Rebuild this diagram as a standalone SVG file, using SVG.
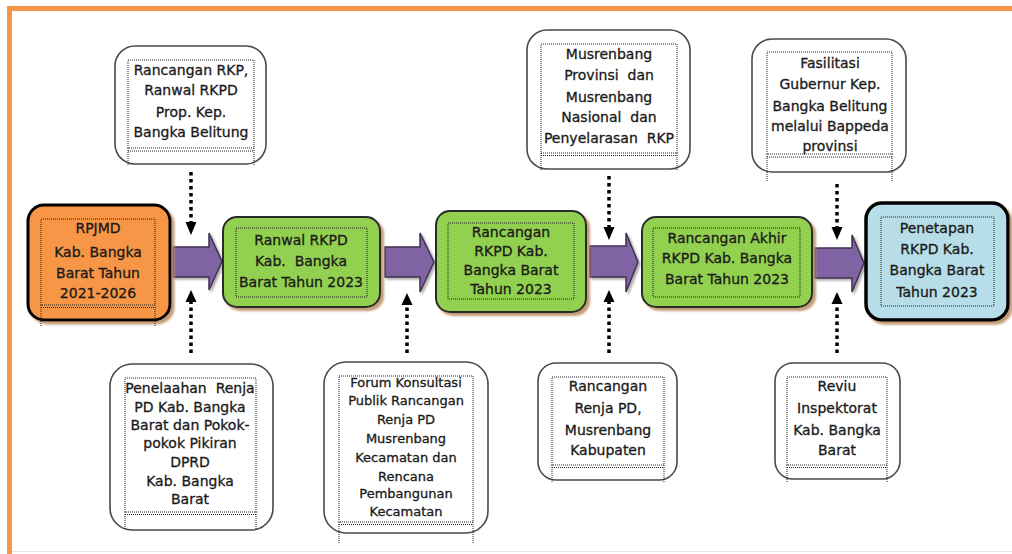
<svg xmlns="http://www.w3.org/2000/svg" width="1012" height="554" viewBox="0 0 1012 554">
<style>
text{font-family:"DejaVu Sans","Verdana",sans-serif;font-size:14px;fill:#1a1a1a;stroke:#1a1a1a;stroke-width:0.3;text-anchor:middle;white-space:pre}
.sm{font-size:13px}
.outer{fill:#fff;stroke:#4a4a4a;stroke-width:1.6}
.dot{fill:none;stroke:#222;stroke-width:1;stroke-dasharray:1 1}
.green{fill:#92D050;stroke:#2b2b2b;stroke-width:2;filter:url(#sh)}
.dl{fill:none;stroke:#000;stroke-width:3.5;stroke-dasharray:3.5 3.5}
.hd{fill:#000}
.pa{fill:#8064A2;stroke:#3f3151;stroke-width:1.5;filter:url(#sh2)}
</style>
<defs>
<filter id="sh" x="-10%" y="-10%" width="130%" height="130%">
<feDropShadow dx="3" dy="3" stdDeviation="1" flood-color="#b88a5e" flood-opacity="0.85"/>
</filter>
<filter id="sh2" x="-10%" y="-10%" width="130%" height="130%">
<feDropShadow dx="2" dy="2" stdDeviation="1.2" flood-color="#777" flood-opacity="0.6"/>
</filter>
</defs>
<rect width="1012" height="554" fill="#fff"/>
<!-- frame -->
<path d="M9.5,554 V8.5 H1012" fill="none" stroke="#F79646" stroke-width="5"/>
<line x1="12" y1="551.5" x2="1012" y2="551.5" stroke="#e6e6e6" stroke-width="1"/>

<g id="connectors">
<path class="pa" d="M173,247 H209 V233 L222,261.5 L209,290 V277 H173 Z"/>
<path class="pa" d="M385,247 H420 V233 L434,262 L420,292 V277 H385 Z"/>
<path class="pa" d="M590,246 H626 V233 L638,262 L626,292 V277 H590 Z"/>
<path class="pa" d="M815,248 H852 V235 L864,263 L852,292 V278 H815 Z"/>
<line class="dl" x1="191" y1="172" x2="191" y2="224"/>
<polygon class="hd" points="185.5,222 196.5,222 191,235"/>
<line class="dl" x1="191" y1="353" x2="191" y2="300"/>
<polygon class="hd" points="185.5,302 196.5,302 191,290"/>
<line class="dl" x1="407" y1="353" x2="407" y2="303"/>
<polygon class="hd" points="401.5,305 412.5,305 407,293"/>
<line class="dl" x1="609" y1="176" x2="609" y2="229"/>
<polygon class="hd" points="603.5,227 614.5,227 609,240"/>
<line class="dl" x1="609" y1="353" x2="609" y2="300"/>
<polygon class="hd" points="603.5,302 614.5,302 609,290"/>
<line class="dl" x1="837" y1="184" x2="837" y2="229"/>
<polygon class="hd" points="831.5,227 842.5,227 837,240"/>
<line class="dl" x1="837" y1="353" x2="837" y2="302"/>
<polygon class="hd" points="831.5,304 842.5,304 837,292"/>
</g>

<g id="rpjmd">
<rect x="28" y="205" width="142" height="115" rx="16" fill="#F79646" stroke="#000" stroke-width="3" filter="url(#sh)"/>
<rect class="dot" x="41" y="219" width="114" height="86"/>
<path class="dot" d="M41,307.5 H155 M41,305 V327 M155,305 V327"/>
<text x="98" y="233">RPJMD</text>
<text x="98" y="257">Kab. Bangka</text>
<text x="98" y="278">Barat Tahun</text>
<text x="98" y="298">2021-2026</text>
</g>

<g id="ranwal">
<rect class="green" x="223" y="217" width="157" height="90" rx="14"/>
<rect class="dot" x="236" y="228" width="131" height="69"/>
<text x="301" y="245">Ranwal RKPD</text>
<text x="301" y="266">Kab.  Bangka</text>
<text x="301" y="287">Barat Tahun 2023</text>
</g>

<g id="rancangan">
<rect class="green" x="436" y="211" width="150" height="101" rx="14"/>
<rect class="dot" x="448" y="223" width="126" height="76"/>
<text x="511" y="237">Rancangan</text>
<text x="511" y="256">RKPD Kab.</text>
<text x="511" y="275">Bangka Barat</text>
<text x="511" y="294">Tahun 2023</text>
</g>

<g id="rancangan-akhir">
<rect class="green" x="642" y="217" width="170" height="90" rx="14"/>
<rect class="dot" x="653" y="228" width="147" height="69"/>
<text x="727" y="243">Rancangan Akhir</text>
<text x="727" y="263">RKPD Kab. Bangka</text>
<text x="727" y="284">Barat Tahun 2023</text>
</g>

<g id="penetapan">
<rect x="866" y="203" width="142" height="117" rx="16" fill="#B7DEE8" stroke="#000" stroke-width="3.5" filter="url(#sh)"/>
<rect class="dot" x="881" y="217" width="113" height="89"/>
<text x="937" y="233">Penetapan</text>
<text x="937" y="254">RKPD Kab.</text>
<text x="937" y="275">Bangka Barat</text>
<text x="937" y="297">Tahun 2023</text>
</g>

<g id="top1">
<rect class="outer" x="115" y="46" width="151" height="118" rx="20"/>
<rect class="dot" x="128" y="60" width="126" height="88"/>
<path class="dot" d="M128,151 H254 M128,148 V165 M254,148 V165"/>
<text x="191" y="75">Rancangan RKP,</text>
<text x="191" y="95">Ranwal RKPD</text>
<text x="191" y="117">Prop. Kep.</text>
<text x="191" y="137">Bangka Belitung</text>
</g>

<g id="top2">
<rect class="outer" x="527" y="30" width="163" height="139" rx="20"/>
<rect class="dot" x="541" y="44" width="136" height="109"/>
<path class="dot" d="M541,155.5 H677 M541,153 V170 M677,153 V170"/>
<text x="609" y="59">Musrenbang</text>
<text x="609" y="80">Provinsi  dan</text>
<text x="609" y="102">Musrenbang</text>
<text x="609" y="122">Nasional  dan</text>
<text x="609" y="143">Penyelarasan  RKP</text>
</g>

<g id="top3">
<rect class="outer" x="752" y="39" width="154" height="133" rx="20"/>
<rect class="dot" x="767" y="52" width="125" height="102"/>
<path class="dot" d="M767,157 H892 M767,154 V181 M892,154 V181"/>
<text x="830" y="68">Fasilitasi</text>
<text x="830" y="89">Gubernur Kep.</text>
<text x="830" y="111">Bangka Belitung</text>
<text x="830" y="131">melalui Bappeda</text>
<text x="830" y="151">provinsi</text>
</g>

<g id="bottom1">
<rect class="outer" x="110" y="364" width="163" height="166" rx="22"/>
<rect class="dot" x="125" y="378" width="131" height="134"/>
<path class="dot" d="M125,514.5 H256 M125,512 V530 M256,512 V530"/>
<text x="190" y="393">Penelaahan  Renja</text>
<text x="190" y="412">PD Kab. Bangka</text>
<text x="190" y="430">Barat dan Pokok-</text>
<text x="190" y="448">pokok Pikiran</text>
<text x="190" y="467">DPRD</text>
<text x="190" y="486">Kab. Bangka</text>
<text x="190" y="504">Barat</text>
</g>

<g id="bottom2">
<rect class="outer" x="324" y="362" width="164" height="171" rx="22"/>
<rect class="dot" x="339" y="376" width="134" height="146"/>
<path class="dot" d="M339,524.5 H473 M339,522 V544 M473,522 V544"/>
<text class="sm" x="406" y="387">Forum Konsultasi</text>
<text class="sm" x="406" y="405">Publik Rancangan</text>
<text class="sm" x="406" y="424">Renja PD</text>
<text class="sm" x="406" y="443">Musrenbang</text>
<text class="sm" x="406" y="462">Kecamatan dan</text>
<text class="sm" x="406" y="481">Rencana</text>
<text class="sm" x="406" y="498">Pembangunan</text>
<text class="sm" x="406" y="516">Kecamatan</text>
</g>

<g id="bottom3">
<rect class="outer" x="538" y="363" width="139" height="117" rx="18"/>
<rect class="dot" x="552" y="377" width="112" height="88"/>
<path class="dot" d="M552,467.5 H664 M552,465 V482 M664,465 V482"/>
<text x="608" y="391">Rancangan</text>
<text x="608" y="413">Renja PD,</text>
<text x="608" y="435">Musrenbang</text>
<text x="608" y="455">Kabupaten</text>
</g>

<g id="bottom4">
<rect class="outer" x="775" y="363" width="125" height="116" rx="18"/>
<rect class="dot" x="787" y="377" width="100" height="88"/>
<path class="dot" d="M787,467.5 H887 M787,465 V482 M887,465 V482"/>
<text x="837" y="391">Reviu</text>
<text x="837" y="413">Inspektorat</text>
<text x="837" y="435">Kab. Bangka</text>
<text x="837" y="455">Barat</text>
</g>
</svg>
